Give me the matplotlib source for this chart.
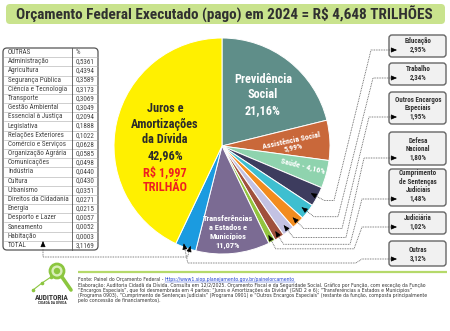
import numpy as np
import matplotlib
matplotlib.use("Agg")
import matplotlib.pyplot as plt
from matplotlib import font_manager as fm
from matplotlib.patches import FancyBboxPatch, Circle

# ---- data ----
title = "Orçamento Federal Executado (pago) em 2024 = R$ 4,648 TRILHÕES"

pie_labels = ["Previdência Social", "Assistência Social", "Saúde", "Educação", "Trabalho",
              "Outros Encargos Especiais", "Defesa Nacional", "Cumprimento de Sentenças Judiciais",
              "Judiciária", "Transferências a Estados e Municípios", "Outras",
              "Juros e Amortizações da Dívida"]
pie_values = [21.16, 5.99, 4.16, 2.95, 2.34, 1.95, 1.80, 1.48, 1.02, 11.07, 3.12, 42.96]
pie_colors = ["#5f8e89", "#c9683a", "#8fd3ae", "#3d3c5e", "#3ebfd0", "#f28c1e",
              "#c3c2e3", "#a0503c", "#92c43e", "#7b6b93", "#1b9be0", "#fff000"]

table_names = ["Administração", "Agricultura", "Segurança Pública", "Ciência e Tecnologia",
               "Transporte", "Gestão Ambiental", "Essencial à Justiça", "Legislativa",
               "Relações Exteriores", "Comércio e Serviços", "Organização Agrária",
               "Comunicações", "Indústria", "Cultura", "Urbanismo", "Direitos da Cidadania",
               "Energia", "Desporto e Lazer", "Saneamento", "Habitação"]
table_values = ["0,5361", "0,4394", "0,3589", "0,3173", "0,3069", "0,3049", "0,2094", "0,1888",
                "0,1022", "0,0628", "0,0585", "0,0498", "0,0440", "0,0430", "0,0351", "0,0271",
                "0,0215", "0,0057", "0,0052", "0,0003"]
table_total = "3,1169"

box_names = ["Educação", "Trabalho", "Outros Encargos\nEspeciais", "Defesa\nNacional",
             "Cumprimento\nde Sentenças\nJudiciais", "Judiciária", "Outras"]
box_slices = [3, 4, 5, 6, 7, 8, 10]

footer = [
    "Elaboração: Auditoria Cidadã da Dívida. Consulta em 12/2/2025. Orçamento Fiscal e da Seguridade Social. Gráfico por Função, com exceção da Função",
    "“Encargos Especiais”, que foi desmembrada em 4 partes: “Juros e Amortizações da Dívida” (GND 2 e 6); “Transferências a Estados e Municípios”",
    "(Programa 0903), “Cumprimento de Sentenças Judiciais” (Programa 0901) e “Outros Encargos Especiais” (restante da função, composta principalmente",
    "pelo concessão de financiamentos).",
]

# ---- fonts ----
names = {f.name for f in fm.fontManager.ttflist}
narrow = "DejaVu Sans"
for cand in ["Roboto Condensed", "Liberation Sans Narrow", "DejaVu Sans Condensed"]:
    if cand in names:
        narrow = cand
        break


def pct(v):
    return f"{v:.2f}".replace(".", ",") + "%"


fig = plt.figure(figsize=(4.5, 3.31), dpi=100)
ax = fig.add_axes([0, 0, 1, 1])

# pie (screen coords, y downwards)
cx, cy, r = 222, 146, 108
ax.pie(pie_values, colors=pie_colors, startangle=-90, counterclock=True,
       radius=r, center=(cx, cy), wedgeprops=dict(edgecolor="white", linewidth=0.7))
ax.set_xlim(0, 450)
ax.set_ylim(331, 0)
ax.set_aspect("auto")
ax.axis("off")

cum = np.cumsum([0] + pie_values)


def slice_point(i, rho, frac=0.5):
    t = np.deg2rad(-90 + 3.6 * (cum[i] + frac * pie_values[i]))
    return cx + rho * np.cos(t), cy + rho * np.sin(t)


# title
ax.add_patch(FancyBboxPatch((6, 4), 439, 20, boxstyle="round,pad=0,rounding_size=4",
                            facecolor="#c9e38d", edgecolor="none"))
ax.text(224, 14.5, title, ha="center", va="center", fontsize=11, fontweight="bold",
        family=narrow, color="#303030")

# pie texts
ax.text(165, 132, "Juros e\nAmortizações\nda Dívida\n42,96%", ha="center", va="center",
        fontsize=8.8, fontweight="bold", family=narrow, color="#2b2b2b", linespacing=1.25)
ax.text(165, 180, "R$ 1,997\nTRILHÃO", ha="center", va="center", fontsize=8.8,
        fontweight="bold", family=narrow, color="#ee2020", linespacing=1.25)
ax.text(263, 95, "Previdência\nSocial\n21,16%", ha="center", va="center", fontsize=8.8,
        fontweight="bold", family=narrow, color="white", linespacing=1.25)
ax.text(292, 144, "Assistência Social\n5,99%", ha="center", va="center", fontsize=5.8,
        fontweight="bold", family=narrow, color="white", rotation=12, linespacing=1.1)
ax.text(303, 166, "Saúde - 4,16%", ha="center", va="center", fontsize=5.8,
        fontweight="bold", family=narrow, color="white", rotation=-14)
ax.text(228, 232, "Transferências\na Estados e\nMunicípios\n11,07%", ha="center", va="center",
        fontsize=6.0, fontweight="bold", family=narrow, color="white", linespacing=1.3)

# table of "outras"
tx0, tx1, tdiv, ty0, ty1 = 3, 98, 72, 48, 250
ax.add_patch(FancyBboxPatch((tx0, ty0), tx1 - tx0, ty1 - ty0,
                            boxstyle="round,pad=0,rounding_size=4",
                            facecolor="white", edgecolor="#555555", linewidth=0.9))
rows = [("OUTRAS", "%")] + list(zip(table_names, table_values)) + [("TOTAL", table_total)]
rh = (ty1 - ty0) / len(rows)
for i, (nm, val) in enumerate(rows):
    yc = ty0 + rh * (i + 0.5)
    ax.text(8, yc, nm, ha="left", va="center", fontsize=5.1, family=narrow, color="#444444")
    ax.text(76, yc, val, ha="left", va="center", fontsize=5.1, family=narrow, color="#444444")
    if i > 0:
        ax.plot([tx0 + 0.5, tx1 - 0.5], [ty0 + rh * i] * 2, color="#aaaaaa", lw=0.4)
ax.plot([tdiv, tdiv], [ty0, ty1], color="#555555", lw=0.6)

# right boxes
box_tb = [(35, 57), (63, 85), (92, 124), (132, 165), (169, 206), (212, 234), (241, 266)]
bx0, bx1 = 389, 446
for nm, sl, (t, b) in zip(box_names, box_slices, box_tb):
    ax.add_patch(FancyBboxPatch((bx0, t), bx1 - bx0, b - t,
                                boxstyle="round,pad=0,rounding_size=3",
                                facecolor="#f1f1f1", edgecolor="#666666", linewidth=1.0))
    yp = b - 7
    ax.text(418, yp, pct(pie_values[sl]), ha="center", va="center", fontsize=5.0,
            fontweight="bold", family=narrow, color="#333333")
    for k, line in enumerate(reversed(nm.split("\n"))):
        ax.text(418, yp - 8.7 * (k + 1), line, ha="center", va="center", fontsize=5.0,
                fontweight="bold", family=narrow, color="#333333")

# leader lines
dot = dict(color="#555555", lw=0.6, linestyle=(0, (1, 1)))
head = dict(arrowstyle="-|>,head_length=0.35,head_width=0.15", color="black", lw=0.5,
            shrinkA=0, shrinkB=0)


def arrow_to(p, q):
    # arrow head at p, coming from direction of q
    d = np.array(q) - np.array(p)
    d = d / np.hypot(*d) * 3
    ax.annotate("", xy=p, xytext=(p[0] + d[0], p[1] + d[1]), arrowprops=head)


x_b = [334, 338, 342, 346, 350, 354]
x_c = [371, 373, 369, 364, 362, 362]
for k in range(6):
    sl = box_slices[k]
    t, b = box_tb[k]
    yp = b - 7
    P = slice_point(sl, 0.93 * r)
    A = slice_point(sl, r + 8)
    pts = [P, A, (x_b[k], A[1]), (x_c[k], yp), (bx0 + 4, yp)]
    xs, ys = zip(*pts)
    ax.plot(xs, ys, **dot)
    arrow_to(P, A)
    ax.annotate("", xy=(bx0 + 8, yp), xytext=(bx0 + 4, yp), arrowprops=head)

# "Outras" box and table from the blue slice
P = slice_point(10, 0.97 * r, 0.65)
yp = box_tb[6][1] - 7
pts = [P, (P[0] + 4, 263), (356, 263), (362, yp), (bx0 + 4, yp)]
xs, ys = zip(*pts)
ax.plot(xs, ys, **dot)
arrow_to(P, pts[1])
ax.annotate("", xy=(bx0 + 8, yp), xytext=(bx0 + 4, yp), arrowprops=head)

P2 = slice_point(10, 0.97 * r, 0.3)
pts = [P2, (P2[0] - 3, 257), (43, 257), (43, 249)]
xs, ys = zip(*pts)
ax.plot(xs, ys, **dot)
arrow_to(P2, pts[1])
ax.annotate("", xy=(43, 241), xytext=(43, 246), arrowprops=head)

# footer
ax.plot([78, 447], [272, 272], color="#b5d96a", lw=1.6, solid_capstyle="butt")
src = ax.text(78, 280, "Fonte: Painel do Orçamento Federal - ", ha="left", va="center",
              fontsize=3.3, color="#333333")
fig.canvas.draw()
x_link = ax.transData.inverted().transform(src.get_window_extent().get_points())[1][0]
link = ax.text(x_link, 280, "https://www1.siop.planejamento.gov.br/painelorcamento", ha="left",
               va="center", fontsize=3.3, color="#1f3fd0")
fig.canvas.draw()
x_end = ax.transData.inverted().transform(link.get_window_extent().get_points())[1][0]
ax.plot([x_link, x_end], [282, 282], color="#1f3fd0", lw=0.3)
for i, line in enumerate(footer):
    ax.text(78, 285.5 + 4.9 * i, line, ha="left", va="center", fontsize=3.3, color="#333333")

# logo
ax.add_patch(Circle((57, 271), 7, facecolor="#d9efb8", edgecolor="#8cc63f", lw=2))
ax.add_patch(Circle((57, 271), 3.2, facecolor="#8cc63f", edgecolor="none"))
ax.plot([62, 71], [277, 290], color="#8cc63f", lw=2.6, solid_capstyle="round")
ax.plot([33, 42, 51], [290, 283, 277], color="#8cc63f", lw=0.8, marker="o", markersize=1.6)
ax.text(52, 297.5, "AUDITORIA", ha="center", va="center", fontsize=5.4, fontweight="bold",
        family=narrow, color="#333333")
ax.text(52, 303.5, "CIDADÃ DA DÍVIDA", ha="center", va="center", fontsize=2.7,
        fontweight="bold", family=narrow, color="#333333")

fig.savefig("out.png", dpi=100)
